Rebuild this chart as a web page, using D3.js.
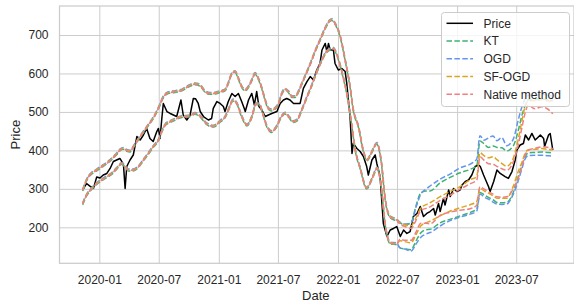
<!DOCTYPE html>
<html><head><meta charset="utf-8">
<script src="https://cdn.jsdelivr.net/npm/d3@7"></script>
<style>
html,body{margin:0;padding:0;background:#fff;}
svg{display:block;font-family:"Liberation Sans",Arial,sans-serif;}
</style></head><body>
<svg id="chart" width="574" height="304"></svg>
<script>
// ---------- DATA ----------
const priceDates = ["2019-11-11","2019-11-23","2019-12-03","2019-12-14","2019-12-24","2020-01-03","2020-01-13","2020-01-24","2020-02-03","2020-02-13",
"2020-02-23","2020-03-04","2020-03-10","2020-03-15","2020-03-20","2020-03-25","2020-04-04","2020-04-14","2020-04-25","2020-05-05",
"2020-05-15","2020-05-25","2020-06-04","2020-06-14","2020-06-25","2020-06-30","2020-07-05","2020-07-10","2020-07-15","2020-07-26",
"2020-08-05","2020-08-15","2020-08-25","2020-09-07","2020-09-14","2020-09-25","2020-10-05","2020-10-15","2020-10-22","2020-10-30",
"2020-11-05","2020-11-15","2020-11-30","2020-12-10","2020-12-15","2020-12-26","2021-01-05","2021-01-15","2021-01-20","2021-01-30",
"2021-02-10","2021-02-20","2021-03-02","2021-03-12","2021-03-20","2021-03-23","2021-04-02","2021-04-12","2021-04-20","2021-04-27",
"2021-05-04","2021-05-13","2021-05-23","2021-06-02","2021-06-12","2021-06-28","2021-07-08","2021-07-18","2021-07-28","2021-08-07",
"2021-08-18","2021-09-07","2021-09-17","2021-09-28","2021-10-08","2021-10-18","2021-10-28","2021-11-07","2021-11-13","2021-11-23",
"2021-11-28","2021-12-03","2021-12-08","2021-12-18","2021-12-23","2022-01-02","2022-01-13","2022-01-23","2022-01-28","2022-02-02",
"2022-02-07","2022-02-13","2022-02-17","2022-02-28","2022-03-10","2022-03-20","2022-03-30","2022-04-04","2022-04-15","2022-04-25",
"2022-04-30","2022-05-10","2022-05-15","2022-05-20","2022-05-31","2022-06-10","2022-06-20","2022-06-30","2022-07-11","2022-07-21",
"2022-07-31","2022-08-10","2022-08-20","2022-08-31","2022-09-10","2022-09-20","2022-09-30","2022-10-10","2022-10-21","2022-10-26",
"2022-11-05","2022-11-10","2022-11-20","2022-11-25","2022-12-06","2022-12-11","2022-12-21","2022-12-31","2023-01-10","2023-01-16",
"2023-01-26","2023-02-05","2023-02-15","2023-02-25","2023-03-08","2023-03-13","2023-03-23","2023-04-07","2023-04-12","2023-04-23",
"2023-05-03","2023-05-13","2023-05-28","2023-06-07","2023-06-18","2023-06-28","2023-07-03","2023-07-13","2023-07-23","2023-07-29",
"2023-08-08","2023-08-18","2023-08-28","2023-09-02","2023-09-13","2023-09-23","2023-09-26","2023-10-08","2023-10-13","2023-10-21"];
const priceValues = [297,314,307,301,331,328,336,340,353,371,
375,379,371,362,301,358,375,388,436,427,
440,457,431,423,449,457,431,479,522,501,
496,492,488,531,492,479,492,535,534,522,
501,488,479,483,509,527,522,514,501,527,
548,540,548,527,509,501,531,548,518,553,
514,505,488,492,496,501,522,531,535,531,
522,522,561,579,592,583,609,626,661,678,
657,678,661,661,626,609,613,605,574,531,
488,392,418,405,397,384,358,336,375,388,
366,332,271,210,176,193,197,202,176,193,
184,189,228,236,254,228,236,241,249,232,
262,241,275,258,297,280,301,293,297,310,
319,323,336,358,362,358,336,306,293,319,
349,340,332,327,345,375,401,414,418,440,
427,444,427,431,440,431,410,440,444,401];

// Upper / lower interval bounds, shared shape up to mid-2022
const upperDates = ["2019-11-11","2019-11-28","2019-12-09","2019-12-24","2020-01-08","2020-01-24","2020-02-08","2020-02-23","2020-03-04","2020-03-15",
"2020-03-25","2020-04-04","2020-04-14","2020-04-30","2020-05-15","2020-05-30","2020-06-14","2020-06-30","2020-07-15","2020-07-30",
"2020-08-20","2020-09-10","2020-09-30","2020-10-20","2020-11-05","2020-11-20","2020-12-05","2020-12-21","2021-01-05","2021-01-20",
"2021-01-30","2021-02-10","2021-02-20","2021-03-02","2021-03-12","2021-03-23","2021-04-02","2021-04-12","2021-04-22","2021-05-02",
"2021-05-13","2021-05-23","2021-06-02","2021-06-12","2021-06-22","2021-07-03","2021-07-13","2021-07-23","2021-08-02","2021-08-13",
"2021-08-23","2021-09-02","2021-09-12","2021-09-22","2021-10-08","2021-10-23","2021-11-07","2021-11-23","2021-12-05","2021-12-13",
"2021-12-23","2022-01-08","2022-01-23","2022-02-07","2022-02-17","2022-03-05","2022-03-19","2022-03-31","2022-04-13","2022-04-30",
"2022-05-13","2022-05-26","2022-06-10","2022-06-30"];
const upperCommon = [297,331,341,349,358,367,378,391,401,405,
400,398,409,430,448,466,484,510,539,550,
553,557,567,573,569,553,548,549,553,557,
575,600,605,587,566,557,566,583,600,587,
561,531,509,505,509,522,548,559,553,540,
540,553,573,593,625,658,687,718,736,740,
730,696,635,566,505,461,401,375,393,418,
375,271,227,219];
const lowerDates = ["2019-11-11","2019-11-23","2019-12-09","2019-12-24","2020-01-08","2020-01-24","2020-02-08","2020-02-23","2020-03-10","2020-03-20",
"2020-03-30","2020-04-14","2020-04-30","2020-05-15","2020-05-30","2020-06-14","2020-06-30","2020-07-10","2020-07-20","2020-08-05",
"2020-08-20","2020-09-10","2020-09-30","2020-10-20","2020-11-05","2020-11-25","2020-12-15","2021-01-05","2021-01-20","2021-01-30",
"2021-02-14","2021-02-26","2021-03-12","2021-03-28","2021-04-12","2021-04-25","2021-05-04","2021-05-17","2021-05-29","2021-06-12",
"2021-06-26","2021-07-11","2021-07-23","2021-08-04","2021-08-17","2021-08-29","2021-09-12","2021-09-28","2021-10-13","2021-10-28",
"2021-11-13","2021-11-28","2021-12-18","2021-12-29","2022-01-13","2022-01-28","2022-02-13","2022-02-23","2022-03-10","2022-03-30",
"2022-04-16","2022-05-01","2022-05-13","2022-05-26","2022-06-10","2022-06-30"];
const lowerCommon = [261,284,301,314,323,332,340,353,366,358,
349,349,358,375,392,410,427,449,466,475,
481,488,489,496,489,469,463,476,487,505,
531,521,489,466,487,521,521,492,461,449,
461,487,497,487,475,479,505,539,570,604,
635,658,665,648,604,548,462,401,354,302,
328,354,310,206,159,157];

// Method-specific bounds from mid-2022 onward
const lateDates = ["2022-07-10","2022-07-25","2022-08-13","2022-08-28","2022-09-12","2022-09-28","2022-10-10","2022-11-10","2022-12-10","2023-01-10",
"2023-02-10","2023-03-02","2023-03-12","2023-03-25","2023-04-07","2023-04-21","2023-05-03","2023-05-18","2023-06-02","2023-06-22",
"2023-07-07","2023-07-18","2023-07-28","2023-08-07","2023-08-28","2023-09-17","2023-10-04","2023-10-21"];
const ktUpperLate     = [214,209,214,258,292,297,297,318,332,344,353,362,427,419,410,414,410,409,401,414,453,492,518,534,534,536,534,531];
const ogdUpperLate    = [211,206,209,250,284,297,305,323,336,352,362,375,436,424,430,435,423,431,410,427,476,510,531,541,541,544,541,539];
const sfUpperLate     = [211,206,203,224,250,258,263,279,292,305,323,331,393,385,380,383,375,365,358,379,427,474,513,528,528,531,528,526];
const nativeUpperLate = [209,203,198,219,245,250,254,271,284,300,314,323,384,375,366,365,359,353,349,371,414,458,497,518,509,514,509,496];
const ktLowerLate     = [149,146,144,167,188,196,197,214,223,232,241,250,293,287,280,274,267,266,267,293,333,362,385,396,397,398,397,396];
const ogdLowerLate    = [144,141,136,154,172,180,184,201,215,224,232,240,284,276,271,263,258,257,258,284,318,349,375,384,385,385,384,383];
const sfLowerLate     = [164,162,159,180,203,211,215,229,241,250,258,266,301,294,288,281,275,275,275,306,344,367,391,401,402,404,402,400];
const nativeLowerLate = [170,167,167,188,211,211,210,232,240,245,249,258,306,300,293,287,280,279,280,301,328,357,388,401,406,410,409,405];

const methodNames = ["KT","OGD","SF-OGD","Native method"];
const xTickDates = ["2020-01-01","2020-07-01","2021-01-01","2021-07-01","2022-01-01","2022-07-01","2023-01-01","2023-07-01"];
const yTicks = [200,300,400,500,600,700];
const xDomain = ["2019-09-01","2023-12-25"];
const yDomain = [106.4, 775.4];

// ---------- CHART ----------
const parse = d3.utcParse("%Y-%m-%d");
const L = 59.5, R = 574, T = 6, B = 263.3;
const x = d3.scaleUtc().domain(xDomain.map(parse)).range([L, R]);
const y = d3.scaleLinear().domain(yDomain).range([B, T]);
const svg = d3.select("#chart");
const textColor = "#262626", gridColor = "#cccccc";

// grid + axes
const gx = svg.append("g").attr("transform", `translate(0,${B})`)
  .call(d3.axisBottom(x).tickValues(xTickDates.map(parse)).tickFormat(d3.utcFormat("%Y-%m"))
        .tickSize(-(B - T)).tickPadding(12));
const gy = svg.append("g").attr("transform", `translate(${L},0)`)
  .call(d3.axisLeft(y).tickValues(yTicks).tickFormat(d3.format("d"))
        .tickSize(-(R - L)).tickPadding(11));
[gx, gy].forEach(g => {
  g.select(".domain").remove();
  g.selectAll(".tick line").attr("stroke", gridColor).attr("stroke-width", 1);
  g.selectAll(".tick text").attr("fill", textColor).attr("font-size", 12)
   .attr("font-family", '"Liberation Sans",Arial,sans-serif');
});
// frame (spines)
svg.append("rect").attr("x", L).attr("y", T).attr("width", R - L).attr("height", B - T)
  .attr("fill", "none").attr("stroke", gridColor).attr("stroke-width", 1.25);

// price line
const priceData = priceDates.map((d, i) => ({date: parse(d), value: priceValues[i]}));
const lineLin = d3.line().x(d => x(d.date)).y(d => y(d.value));
const lineSmooth = d3.line().x(d => x(d.date)).y(d => y(d.value)).curve(d3.curveMonotoneX);

const plot = svg.append("g");
plot.append("path").datum(priceData).attr("d", lineLin)
  .attr("fill", "none").attr("stroke", "#000").attr("stroke-width", 1.5).attr("stroke-linejoin", "round");

const methods = [
  {name: methodNames[0], color: "#3cb371", up: ktUpperLate, lo: ktLowerLate, off: 0,   dy: 0.9},
  {name: methodNames[1], color: "#6495ed", up: ogdUpperLate, lo: ogdLowerLate, off: 0.6, dy: -0.9},
  {name: methodNames[2], color: "#daa520", up: sfUpperLate, lo: sfLowerLate, off: 1.2, dy: -0.3},
  {name: methodNames[3], color: "#f08080", up: nativeUpperLate, lo: nativeLowerLate, off: 1.8, dy: 0.3}
];
methods.forEach(m => {
  const upD = upperDates.concat(lateDates), upV = upperCommon.concat(m.up);
  const loD = lowerDates.concat(lateDates), loV = lowerCommon.concat(m.lo);
  [[upD, upV], [loD, loV]].forEach(([ds, vs]) => {
    const data = ds.map((d, i) => ({date: parse(d), value: vs[i]}));
    plot.append("path").datum(data).attr("d", lineSmooth)
      .attr("transform", `translate(0,${m.dy})`)
      .attr("fill", "none").attr("stroke", m.color).attr("stroke-width", 1.5)
      .attr("stroke-dasharray", "5.5,2.4").attr("stroke-dashoffset", m.off);
  });
});

// axis labels
svg.append("text").attr("x", (L + R) / 2 - 1).attr("y", 300).attr("text-anchor", "middle")
  .attr("font-size", 13).attr("fill", textColor).text("Date");
svg.append("text").attr("transform", "translate(19.5,134.6) rotate(-90)").attr("text-anchor", "middle")
  .attr("font-size", 13).attr("fill", textColor).text("Price");

// legend
const lg = svg.append("g");
lg.append("rect").attr("x", 441.5).attr("y", 12.5).attr("width", 128).attr("height", 94).attr("rx", 3)
  .attr("fill", "#fff").attr("fill-opacity", 0.8).attr("stroke", gridColor).attr("stroke-width", 1);
const legendItems = [{name: "Price", color: "#000", dash: null}].concat(methods.map(m => ({name: m.name, color: m.color, dash: "5.5,2.4"})));
legendItems.forEach((it, i) => {
  const cy = 23.3 + i * 17.75;
  const ln = lg.append("line").attr("x1", 446.5).attr("x2", 473).attr("y1", cy).attr("y2", cy)
    .attr("stroke", it.color).attr("stroke-width", 1.5);
  if (it.dash) ln.attr("stroke-dasharray", it.dash);
  lg.append("text").attr("x", 483.5).attr("y", cy).attr("dy", "0.35em").attr("font-size", 12)
    .attr("fill", textColor).text(it.name);
});
</script>
</body></html>
